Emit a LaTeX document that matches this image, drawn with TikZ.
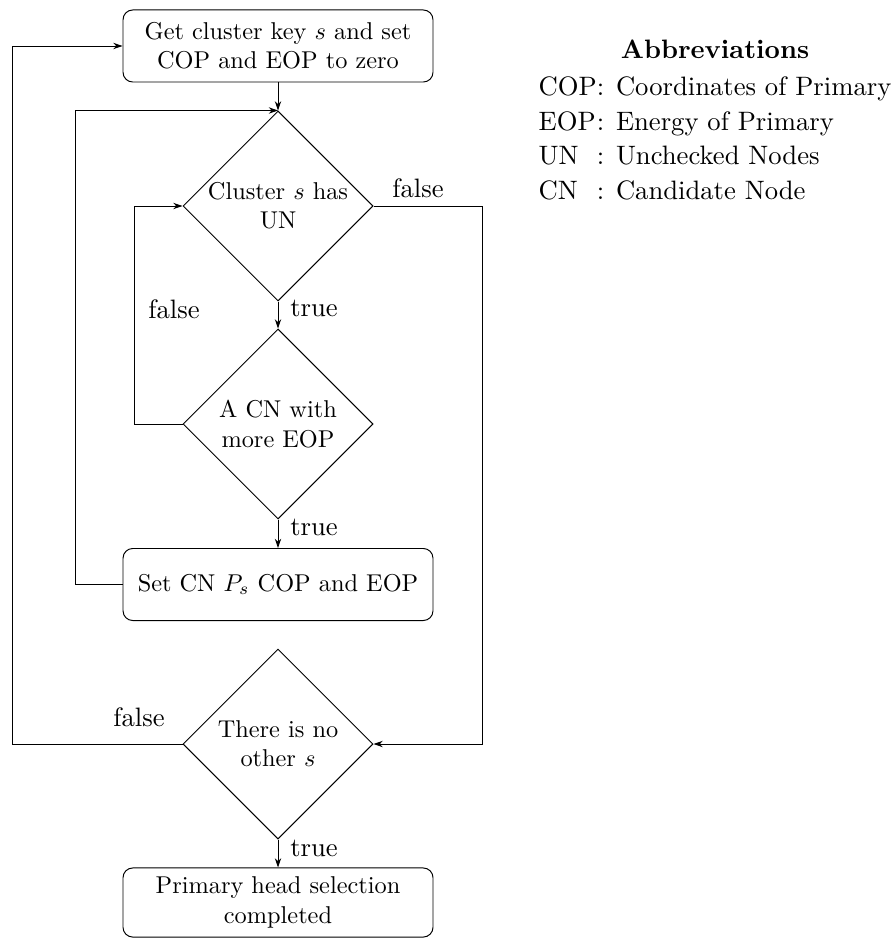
\documentclass[tikz,border=0pt]{standalone}
\usetikzlibrary{shapes.geometric,arrows.meta}
\begin{document}
\begin{tikzpicture}[x=0.411pt,y=-0.411pt,
  flow/.style={draw, rounded corners=4pt, minimum width=127.4pt, minimum height=29.6pt,
    align=center, inner sep=2pt, font=\fontsize{10}{12}\selectfont},
  decision/.style={draw, diamond, aspect=1, inner sep=0pt, minimum width=78.1pt,
    minimum height=78.1pt, align=center, font=\fontsize{10}{12}\selectfont},
  tag/.style={font=\fontsize{10.95}{13.6}\selectfont, inner sep=0pt},
  arr/.style={-{Stealth[length=3.8pt,width=2.6pt,inset=1.2pt]}},
]
\useasboundingbox (0,0) rectangle (892,939);

% main column of steps and decisions
\node[flow] (b1) at (278,46) {Get cluster key $s$ and set\\COP and EOP to zero};
\node[decision] (d1) at (278,206) {Cluster $s$ has\\UN};
\node[decision] (d2) at (278,424) {A CN with\\more EOP};
\node[flow] (b2) at (278,584.5) {Set CN $P_s$ COP and EOP};
\node[decision] (d3) at (278,744) {There is no\\other $s$};
\node[flow, minimum height=28.4pt] (b3) at (278,902.5) {Primary head selection\\completed};

% straight flow
\draw[arr] (b1) -- (d1);
\draw[arr] (d1) -- (d2);
\draw[arr] (d2) -- (b2);
\draw[arr] (d3) -- (b3);

% loops back
\draw[arr] (d2.west) -- ++(-48,0) |- (d1.west);
\draw[arr] (b2.west) -- ++(-47,0) |- (d1.north);
\draw[arr] (d3.west) -- ++(-170,0) |- (b1.west);
\draw[arr] (d1.east) -- ++(109,0) |- (d3.east);

% branch labels
\node[tag] (f1) at (418,188) {false};
\node[tag] (t1) at (314,308) {true};
\node[tag] (f2) at (174,309) {false};
\node[tag] (t2) at (314,527) {true};
\node[tag] (f3) at (139,717) {false};
\node[tag] (t3) at (314,848) {true};

% legend
\node[tag] (abbr) at (715,122) {\renewcommand\arraystretch{1.05}%
  \begin{tabular}{@{}l@{}l@{}}
    \multicolumn{2}{c}{\textbf{Abbreviations}}\\[1pt]
    COP&: Coordinates of Primary\\
    EOP&: Energy of Primary\\
    UN&: Unchecked Nodes\\
    CN&: Candidate Node
  \end{tabular}};
\end{tikzpicture}
\end{document}
